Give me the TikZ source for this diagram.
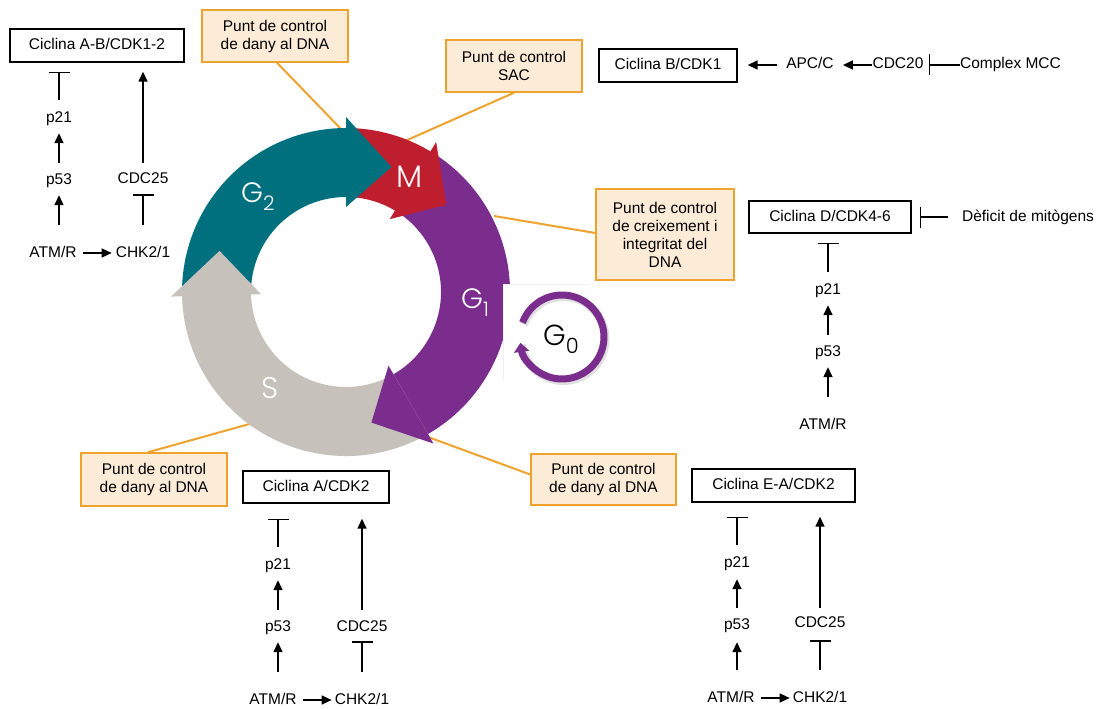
\documentclass[tikz,border=0pt]{standalone}
\usepackage{fontspec}
\setmainfont{Liberation Sans}
\newfontfamily\geo{Poppins Light}
\usetikzlibrary{arrows.meta,calc}

\definecolor{phaseGtwo}{HTML}{00707F}
\definecolor{phaseM}{HTML}{BE1E2D}
\definecolor{phaseGone}{HTML}{7B2D8E}
\definecolor{phaseS}{HTML}{C6C1BA}
\definecolor{calloutline}{HTML}{F0A22E}
\definecolor{calloutfill}{HTML}{FCEBD6}

% one coloured band of the cycle ring, clockwise from #2 to #3 degrees
\newcommand\ringbody[3]{\fill[#1] (#2:164) arc[start angle=#2, end angle=#3, radius=164]
  -- (#3:95) arc[start angle=#3, end angle=#2, radius=95] -- cycle;}
% the arrow head closing a band: base at #2 degrees, tip at #3 degrees
\newcommand\ringhead[3]{\fill[#1] (#2:85) -- (#2:175) -- (#3:133) -- cycle;}

\begin{document}
\begin{tikzpicture}[x=1pt, y=-1pt,
  txt/.style={inner sep=0pt, text height=11pt, text depth=3pt, font=\fontsize{15.5}{18}\selectfont},
  cbox/.style={txt, draw, line width=1.4pt, minimum height=33pt},
  callout/.style={draw=calloutline, fill=calloutfill, line width=1.5pt, align=center,
    inner sep=0pt, font=\fontsize{15.5}{18}\selectfont},
  leader/.style={draw=calloutline, line width=2pt},
  act/.style={line width=1.5pt, -{Triangle[length=10pt,width=9pt]}},
  inh/.style={line width=1.5pt, -{Bar[width=21pt,line width=1.5pt]}},
  phase/.style={inner sep=0pt, anchor=base west, text=white},
]
\useasboundingbox (0,0) rectangle (1104,709);

% ---------- checkpoint callouts ----------
\node[callout, minimum width=146pt, minimum height=52pt] (k1) at (275,36) {Punt de control\\de dany al DNA};
\node[callout, minimum width=136pt, minimum height=52pt] (k2) at (514,66) {Punt de control\\SAC};
\node[callout, minimum width=138pt, minimum height=91pt] (k3) at (665,234.5)
  {Punt de control\\de creixement i\\integritat del\\DNA};
\node[callout, minimum width=146pt, minimum height=53pt] (k4) at (154,479.5) {Punt de control\\de dany al DNA};
\node[callout, minimum width=145pt, minimum height=51pt] (k5) at (603.5,479.5) {Punt de control\\de dany al DNA};

\coordinate (e1) at (342,130);
\coordinate (e2) at (405,141);
\coordinate (e3) at (494,216);
\coordinate (e4) at (253,423);
\coordinate (e5) at (428,437);
\draw[leader] ($(k1.south)+(2,0)$) -- (e1);
\draw[leader] (k2.south) -- (e2);
\draw[leader] ($(k3.west)+(0,-1.5)$) -- (e3);
\draw[leader] ($(k4.north)+(-6,0)$) -- (e4);
\draw[leader] ($(k5.west)+(0,-5)$) -- (e5);

% ---------- the cell cycle ring ----------
\begin{scope}[shift={(346,292)}, yscale=-1]
  \ringbody{phaseGtwo}{181.5}{88}
  \ringbody{phaseM}{90}{57}
  \ringbody{phaseGone}{59}{-62}
  \ringbody{phaseS}{-60}{-180.5}
  \ringhead{phaseGtwo}{90}{70}
  \ringhead{phaseM}{59}{41}
  \ringhead{phaseGone}{-60}{-79}
  \ringhead{phaseS}{-178.5}{-198}
\end{scope}

% G0 loop on its white panel
\fill[white] (503,284) rectangle (640,420);
\draw[black!6, line width=0.6pt] (503,380) -- (503,284) -- (590,284);
\begin{scope}[shift={(562,337)}, yscale=-1]
  \draw[black, opacity=0.12, line width=8pt] (1.5,-2) ++(160:42) arc[start angle=160, end angle=-172, radius=42];
  \draw[phaseGone, line width=7pt, -{Triangle[length=9pt,width=15pt]}]
    (160:42) arc[start angle=160, end angle=-172, radius=42];
\end{scope}

\node[phase, font=\geo\fontsize{28}{28}\selectfont] (lg2) at (241,202) {G\raisebox{-8pt}{\fontsize{20}{20}\selectfont 2}};
\node[phase, font=\geo\fontsize{31}{31}\selectfont] (lm) at (396,187) {M};
\node[phase, font=\geo\fontsize{28}{28}\selectfont] (lg1) at (461,308) {G\raisebox{-8pt}{\fontsize{20}{20}\selectfont 1}};
\node[phase, font=\geo\fontsize{30}{30}\selectfont] (ls) at (261,398) {S};
\node[phase, text=black, font=\geo\fontsize{29}{29}\selectfont] (lg0) at (543,345) {G\raisebox{-8pt}{\fontsize{21}{21}\selectfont 0}};

% ---------- G2/M damage pathway (top left) ----------
\node[cbox, minimum width=174pt] (tlbox) at (97,45.5) {Ciclina A-B/CDK1-2};
\node[txt] (tl21) at (59,118) {p21};
\node[txt] (tl53) at (59,180) {p53};
\node[txt] (tlatm) at (53,253) {ATM/R};
\node[txt] (tlchk) at (143,253) {CHK2/1};
\node[txt] (tlcdc) at (143,179) {CDC25};
\draw[inh, shorten <=11pt, shorten >=9pt] (tl21.north) -- (tl21.north |- tlbox.south);
\draw[act, shorten <=10pt, shorten >=8pt] (tl53.north) -- (tl21.south);
\draw[act, shorten <=21pt, shorten >=8pt] (tl53.south |- tlatm.north) -- (tl53.south);
\draw[act, shorten <=6pt, shorten >=4pt] (tlatm.east) -- (tlchk.west);
\draw[inh, shorten <=21pt, shorten >=8pt] (tlchk.north) -- (tlcdc.south);
\draw[act, shorten <=9pt, shorten >=9pt] (tlcdc.north) -- (tlcdc.north |- tlbox.south);

% ---------- SAC pathway (top right) ----------
\node[cbox, minimum width=138pt] (trbox) at (668,65.5) {Ciclina B/CDK1};
\node[txt] (apc) at (810,65) {APC/C};
\node[txt] (cdc20) at (898,65) {CDC20};
\node[txt] (mcc) at (1010.5,65) {Complex MCC};
\draw[act, shorten <=9pt, shorten >=10pt] (apc.west) -- (apc.west -| trbox.east);
\draw[act, shorten >=9pt] (cdc20.west) -- (apc.east);
\draw[inh, shorten >=5pt] (mcc.west) -- (cdc20.east);

% ---------- G1 pathway (right) ----------
\node[cbox, minimum width=162pt, minimum height=32pt] (rbox) at (830,217) {Ciclina D/CDK4-6};
\node[txt] (r21) at (828,290) {p21};
\node[txt] (r53) at (828,352) {p53};
\node[txt] (ratm) at (823,425) {ATM/R};
\node[txt] (rdef) at (1028,217) {Dèficit de mitògens};
\draw[inh, shorten <=11pt, shorten >=9pt] (r21.north) -- (r21.north |- rbox.south);
\draw[act, shorten <=10pt, shorten >=8pt] (r53.north) -- (r21.south);
\draw[act, shorten <=21pt, shorten >=8pt] (r53.south |- ratm.north) -- (r53.south);
\draw[inh, shorten <=14pt, shorten >=8pt] (rdef.west) -- (rbox.east);

% ---------- S-phase pathway (bottom left) ----------
\node[cbox, minimum width=146pt, minimum height=32pt] (blbox) at (316,487) {Ciclina A/CDK2};
\node[txt] (bl21) at (278,565) {p21};
\node[txt] (bl53) at (278,627) {p53};
\node[txt] (blatm) at (273,700) {ATM/R};
\node[txt] (blchk) at (362,700) {CHK2/1};
\node[txt] (blcdc) at (362,627) {CDC25};
\draw[inh, shorten <=11pt, shorten >=15pt] (bl21.north) -- (bl21.north |- blbox.south);
\draw[act, shorten <=10pt, shorten >=8pt] (bl53.north) -- (bl21.south);
\draw[act, shorten <=21pt, shorten >=8pt] (bl53.south |- blatm.north) -- (bl53.south);
\draw[act, shorten <=6pt, shorten >=3pt] (blatm.east) -- (blchk.west);
\draw[inh, shorten <=21pt, shorten >=7pt] (blchk.north) -- (blcdc.south);
\draw[act, shorten <=10pt, shorten >=15pt] (blcdc.north) -- (blcdc.north |- blbox.south);

% ---------- G1/S pathway (bottom right) ----------
\node[cbox, minimum width=163pt] (brbox) at (773.5,485.5) {Ciclina E-A/CDK2};
\node[txt] (br21) at (737,563) {p21};
\node[txt] (br53) at (737,625) {p53};
\node[txt] (bratm) at (731,698) {ATM/R};
\node[txt] (brchk) at (820,698) {CHK2/1};
\node[txt] (brcdc) at (820,623) {CDC25};
\draw[inh, shorten <=11pt, shorten >=14pt] (br21.north) -- (br21.north |- brbox.south);
\draw[act, shorten <=10pt, shorten >=9pt] (br53.north) -- (br21.south);
\draw[act, shorten <=21pt, shorten >=10pt] (br53.south |- bratm.north) -- (br53.south);
\draw[act, shorten <=6pt, shorten >=3pt] (bratm.east) -- (brchk.west);
\draw[inh, shorten <=21pt, shorten >=10pt] (brchk.north) -- (brcdc.south);
\draw[act, shorten <=8pt, shorten >=14pt] (brcdc.north) -- (brcdc.north |- brbox.south);
\end{tikzpicture}
\end{document}
